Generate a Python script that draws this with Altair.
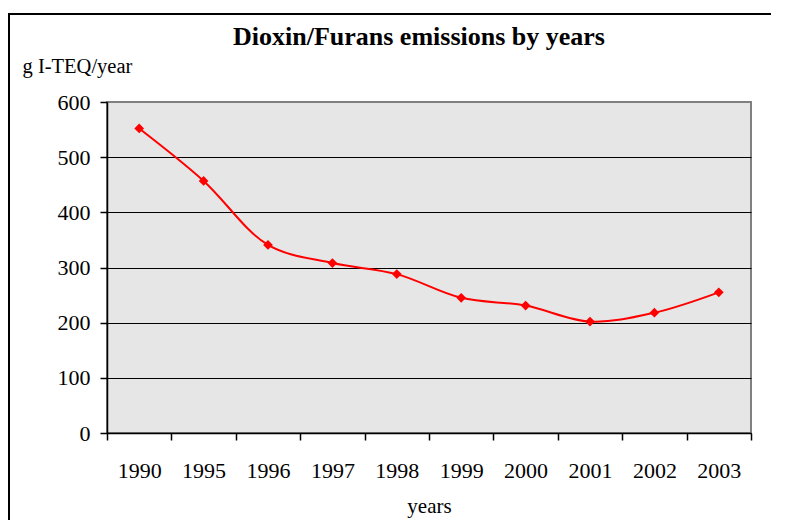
import altair as alt
import pandas as pd

years = ["1990", "1995", "1996", "1997", "1998", "1999", "2000", "2001", "2002", "2003"]
values = [552, 457, 341, 308, 288, 245, 231, 202, 218, 255]
y_ticks = [0, 100, 200, 300, 400, 500, 600]

df = pd.DataFrame({"year": years, "value": values})

FONT = "'Liberation Serif', 'Times New Roman', serif"
W, H = 644, 331

x_enc = alt.X(
    "year:O",
    sort=years,
    scale=alt.Scale(type="band", paddingInner=0, paddingOuter=0),
    axis=alt.Axis(
        title="years",
        labelAngle=0,
        tickBand="extent",
        tickSize=7,
        tickColor="black",
        tickWidth=1.5,
        domainColor="black",
        domainWidth=1.5,
        labelFont=FONT,
        labelFontSize=22,
        labelColor="black",
        labelPadding=20,
        labelBaseline="top",
        titleFont=FONT,
        titleFontSize=21,
        titleFontWeight="normal",
        titleColor="black",
        titleX=W / 2,
        titleY=79,
        titleAlign="center",
        titleBaseline="alphabetic",
    ),
)

y_enc = alt.Y(
    "value:Q",
    scale=alt.Scale(domain=[0, 600], nice=False),
    axis=alt.Axis(
        title="g I-TEQ/year",
        values=y_ticks,
        grid=True,
        gridColor=alt.condition("datum.value >= 600", alt.value("#808080"), alt.value("black")),
        gridWidth=1,
        tickSize=7,
        tickColor="black",
        tickWidth=1.5,
        domainColor="black",
        domainWidth=1.5,
        labelFont=FONT,
        labelFontSize=22,
        labelColor="black",
        labelPadding=10,
        titleFont=FONT,
        titleFontSize=20.5,
        titleFontWeight="normal",
        titleColor="black",
        titleAngle=0,
        titleX=-85,
        titleY=-30,
        titleAlign="left",
        titleBaseline="alphabetic",
    ),
)

line = alt.Chart(df).mark_line(
    interpolate="catmull-rom", color="#ff0000", strokeWidth=2
).encode(x=x_enc, y=y_enc)

pts = alt.Chart(df).mark_point(
    shape="diamond", filled=True, size=95, color="#ff0000", opacity=1
).encode(x="year:O", y="value:Q")

frame_data = alt.Data(values=[{"k": 1}])
frame_top = alt.Chart(frame_data).mark_rule(color="black", strokeWidth=2).encode(
    x=alt.value(-99), x2=alt.value(700), y=alt.value(-88)
)
frame_left = alt.Chart(frame_data).mark_rule(color="black", strokeWidth=2).encode(
    x=alt.value(-98), y=alt.value(-89), y2=alt.value(430)
)

chart = alt.layer(line, pts, frame_top, frame_left).properties(
    width=W,
    height=H,
    background="white",
    title=alt.Title(
        "Dioxin/Furans emissions by years",
        font=FONT,
        fontSize=26,
        fontWeight="bold",
        color="black",
        anchor="middle",
        offset=8,
        dx=-10,
        dy=46,
    ),
    autosize=alt.AutoSizeParams(type="none"),
    padding={"left": 99, "top": 94, "right": 20, "bottom": 87},
).configure_view(
    fill="#e6e6e6", stroke="#808080", strokeWidth=2
)

chart.save("out.html", embed_options={"renderer": "svg", "actions": False})
